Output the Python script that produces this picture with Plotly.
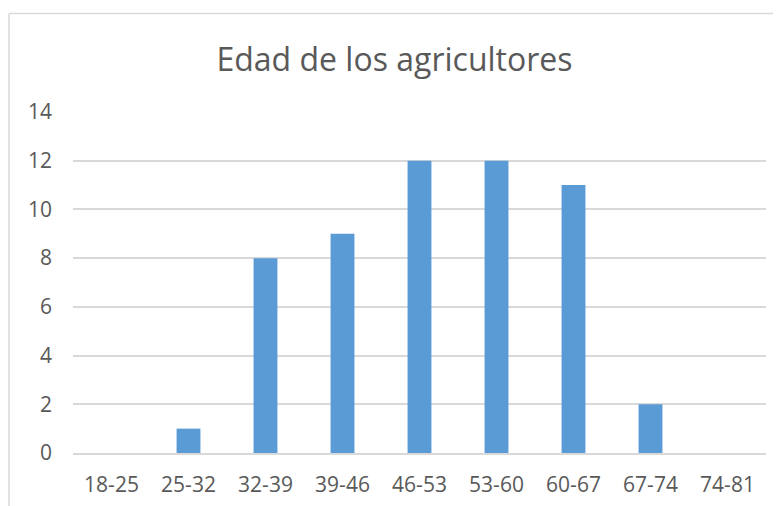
import plotly.graph_objects as go

rangos = ["18-25", "25-32", "32-39", "39-46", "46-53", "53-60", "60-67", "67-74", "74-81"]
agricultores = [0, 1, 8, 9, 12, 12, 11, 2, 0]
y_ticks = [0, 2, 4, 6, 8, 10, 12, 14]

# the page body has an 8px margin, so the figure is drawn from (8, 8)
OFF = 8
W, H = 781 - OFF, 506 - OFF
L, R, T, B = 73 - OFF, 15, 112 - OFF, 53
pw, ph = W - L - R, H - T - B


def px_x(x):
    return (x - OFF - L) / pw


def px_y(y):
    return (H - B - (y - OFF)) / ph


fig = go.Figure(go.Bar(x=rangos, y=agricultores, marker_color="#5B9BD5", marker_line_width=0))

fig.update_layout(
    width=W, height=H,
    margin=dict(l=L, r=R, t=T, b=B, autoexpand=False),
    paper_bgcolor="white", plot_bgcolor="white",
    bargap=0.69,
    showlegend=False,
    font=dict(family="Open Sans", color="#595959"),
    title=dict(text="Edad de los agricultores", x=0.5, xanchor="center",
               y=1 - (60 - OFF) / H, yanchor="middle",
               font=dict(size=32, color="#595959", family="Open Sans")),
    shapes=[
        dict(type="line", xref="paper", yref="paper", x0=px_x(9), x1=px_x(9),
             y0=px_y(520), y1=px_y(13.5), line=dict(color="#D9D9D9", width=1.5)),
        dict(type="line", xref="paper", yref="paper", x0=px_x(9), x1=px_x(800),
             y0=px_y(13.5), y1=px_y(13.5), line=dict(color="#D9D9D9", width=1.5)),
    ],
)

fig.update_xaxes(showgrid=False, showline=True, linecolor="#D9D9D9", linewidth=1.5,
                 automargin=False,
                 tickfont=dict(size=21, color="#595959"), ticks="", ticklabelstandoff=12)
fig.update_yaxes(range=[0, 14], tickvals=y_ticks, showgrid=True, gridcolor="#D9D9D9",
                 gridwidth=1.5, zeroline=False, showline=False, ticks="", automargin=False,
                 tickfont=dict(size=21, color="#595959"), ticklabelstandoff=20)

fig.write_html("out.html")
